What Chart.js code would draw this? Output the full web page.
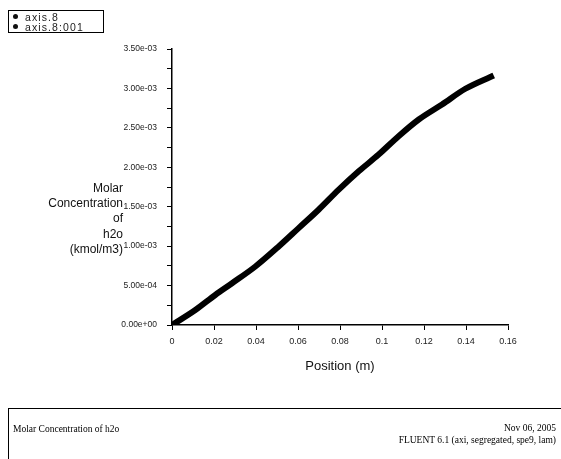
<!DOCTYPE html>
<html>
<head>
<meta charset="utf-8">
<script src="https://cdn.jsdelivr.net/npm/chart.js@4.4.1/dist/chart.umd.min.js"></script>
<style>
  html, body { margin: 0; padding: 0; background: #fff; }
  #wrap { position: relative; width: 561px; height: 459px; overflow: hidden; font-family: "Liberation Sans", Arial, sans-serif; color: #111; }
  #chart { position: absolute; left: 0; top: 0; }
  .legend { position: absolute; left: 8px; top: 10px; width: 94px; height: 21px; border: 1px solid #000; font-size: 10.5px; line-height: 10px; letter-spacing: 1.1px; color: #222; }
  .legend div { position: relative; padding-left: 16px; }
  .legend div:first-child { margin-top: 1px; }
  .legend span { position: absolute; left: 4px; top: 2px; width: 5px; height: 5px; border-radius: 50%; background: #111; }
  .ytitle { position: absolute; right: 438px; top: 181px; text-align: right; font-size: 12px; line-height: 15.2px; }
  .footer { position: absolute; left: 8px; top: 408px; width: 600px; height: 60px; border: 1px solid #000; font-family: "Liberation Serif", serif; font-size: 9.5px; color: #000; }
  .footer .l { position: absolute; left: 4px; top: 15px; }
  .footer .r { position: absolute; left: 0; width: 547px; top: 13px; text-align: right; line-height: 12px; }
</style>
</head>
<body>
<div id="wrap">
  <canvas id="chart" width="561" height="459"></canvas>
  <div class="legend">
    <div><span></span>axis.8</div>
    <div><span></span>axis.8:001</div>
  </div>
  <div class="ytitle">Molar<br>Concentration<br>of<br>h2o<br>(kmol/m3)</div>
  <div class="footer">
    <div class="l">Molar Concentration of h2o</div>
    <div class="r">Nov 06, 2005<br>FLUENT 6.1 (axi, segregated, spe9, lam)</div>
  </div>
</div>
<script>
// position along axis (m)
const positions = [0, 0.0111, 0.0206, 0.0286, 0.0397, 0.0508, 0.0603, 0.0698, 0.0794,
  0.0889, 0.0984, 0.1079, 0.1175, 0.1286, 0.1397, 0.1532];
// molar concentration of h2o (kmol/m3)
const concentration = [0, 1.9e-4, 3.81e-4, 5.3e-4, 7.42e-4, 9.96e-4, 1.229e-3, 1.462e-3, 1.716e-3,
  1.949e-3, 2.161e-3, 2.394e-3, 2.606e-3, 2.797e-3, 2.996e-3, 3.165e-3];

const xTicks = [0, 0.02, 0.04, 0.06, 0.08, 0.1, 0.12, 0.14, 0.16];
const yMax = 3.5e-3;

function sci(v) {
  const [m, e] = v.toExponential(2).split('e');
  const n = Math.abs(parseInt(e, 10));
  return m + 'e' + (e[0] === '-' ? '-' : '+') + String(n).padStart(2, '0');
}

const points = positions.map((x, i) => ({ x, y: concentration[i] }));

const tickFont = { family: '"Liberation Sans", Arial, sans-serif', size: 8.5 };

new Chart(document.getElementById('chart'), {
  type: 'scatter',
  data: {
    datasets: [{
      label: 'axis.8',
      data: points,
      showLine: true,
      borderColor: '#000',
      backgroundColor: '#000',
      borderWidth: 6,
      pointRadius: 0,
      cubicInterpolationMode: 'monotone'
    }]
  },
  options: {
    responsive: false,
    animation: false,
    layout: { padding: { left: 112, right: 53, top: 49, bottom: 84 } },
    plugins: { legend: { display: false }, tooltip: { enabled: false } },
    scales: {
      x: {
        type: 'linear',
        min: 0,
        max: 0.16,
        afterBuildTicks: s => { s.ticks = xTicks.map(v => ({ value: v })); },
        afterFit: s => { s.height = 50; },
        border: { display: true, color: '#000', width: 1.5 },
        grid: { drawOnChartArea: false, drawTicks: true, tickLength: 5, color: '#000' },
        ticks: {
          color: '#222',
          font: { family: '"Liberation Sans", Arial, sans-serif', size: 9 },
          padding: 6,
          maxRotation: 0,
          callback: v => String(parseFloat(v.toFixed(2)))
        },
        title: {
          display: true,
          text: 'Position (m)',
          color: '#111',
          font: { family: '"Liberation Sans", Arial, sans-serif', size: 13 },
          padding: { top: 0, bottom: 1 }
        }
      },
      y: {
        type: 'linear',
        min: 0,
        max: yMax,
        afterFit: s => { s.width = 60; },
        border: { display: true, color: '#000', width: 1.5 },
        grid: { drawOnChartArea: false, drawTicks: true, tickLength: 5, color: '#000' },
        ticks: {
          stepSize: 2.5e-4,
          color: '#222',
          font: tickFont,
          padding: 10,
          callback: (v, i) => (i % 2 === 0 ? sci(v) : '')
        }
      }
    }
  }
});
</script>
</body>
</html>
